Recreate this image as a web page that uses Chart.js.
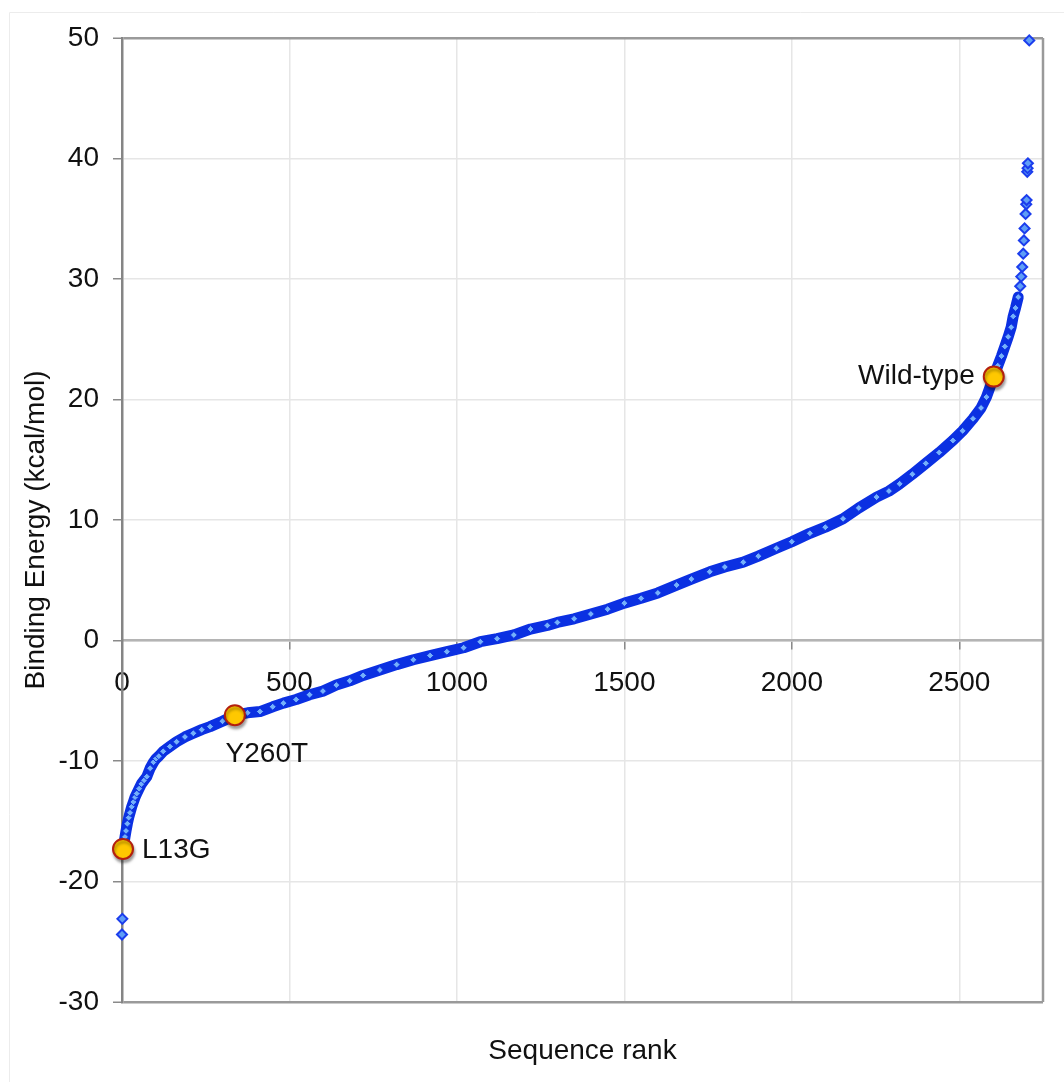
<!DOCTYPE html>
<html>
<head>
<meta charset="utf-8">
<title>Binding energy by sequence rank</title>
<script src="https://cdn.jsdelivr.net/npm/chart.js@4.4.1/dist/chart.umd.min.js"></script>
<style>
  html, body { margin: 0; padding: 0; background: #fff; }
  #wrap { width: 1064px; height: 1082px; }
</style>
</head>
<body>
<div id="wrap"><canvas id="rankChart" width="1064" height="1082"></canvas></div>
<script>
// main sorted curve (rank, binding energy)
const bandRanks = [3, 6, 9, 12, 16, 20, 24, 29, 34, 39, 44, 51, 58, 66, 74, 84, 94, 102, 110, 123,
  143, 163, 188, 213, 238, 263, 300, 337, 375, 412, 450, 482, 520, 560, 600, 640, 680, 720, 770, 820,
  870, 920, 970, 1020, 1070, 1120, 1170, 1220, 1270, 1300, 1350, 1400, 1450, 1500, 1550, 1600, 1656, 1700, 1755, 1800,
  1855, 1900, 1954, 2000, 2054, 2100, 2153, 2200, 2253, 2290, 2322, 2360, 2400, 2440, 2481, 2510, 2541, 2565, 2581, 2603,
  2615, 2626, 2636, 2646, 2655, 2661, 2668, 2676];
const bandEnergy = [-17.3, -16.8, -16.3, -15.8, -15.2, -14.7, -14.3, -13.8, -13.4, -13.0, -12.7, -12.3, -11.9, -11.6, -11.3, -10.6, -10.1, -9.8, -9.6, -9.2,
  -8.8, -8.4, -8.0, -7.7, -7.4, -7.15, -6.7, -6.2, -6.0, -5.9, -5.5, -5.2, -4.9, -4.5, -4.2, -3.7, -3.35, -2.9, -2.45, -2.0,
  -1.6, -1.25, -0.93, -0.6, -0.1, 0.15, 0.46, 0.95, 1.25, 1.5, 1.8, 2.2, 2.6, 3.1, 3.5, 3.95, 4.6, 5.1, 5.7, 6.1,
  6.5, 7.0, 7.65, 8.2, 8.9, 9.4, 10.1, 11.0, 11.9, 12.4, 13.0, 13.8, 14.7, 15.6, 16.6, 17.4, 18.4, 19.3, 20.2, 21.9,
  22.8, 23.6, 24.4, 25.2, 26.0, 26.9, 27.6, 28.5];

// isolated points at both ends
const tailRanks = [0, 1, 2682, 2685, 2688, 2691, 2693, 2695, 2698, 2700, 2701, 2703, 2704, 2705, 2709];
const tailEnergy = [-24.4, -23.1, 29.4, 30.2, 31.0, 32.1, 33.2, 34.2, 35.4, 36.2, 36.55, 38.9, 39.2, 39.6, 49.8];

// labelled sequences
const markNames = ['L13G', 'Y260T', 'Wild-type'];
const markRanks = [3, 337, 2603];
const markEnergy = [-17.3, -6.2, 21.9];

const xTickValues = [0, 500, 1000, 1500, 2000, 2500];
const xTitle = 'Sequence rank';
const yTitle = 'Binding Energy (kcal/mol)';

const toPoints = (xs, ys) => xs.map((x, i) => ({ x: x, y: ys[i] }));

Chart.defaults.font.family = '"Liberation Sans", Arial, sans-serif';
Chart.defaults.font.size = 28;
Chart.defaults.color = '#111';

// frame, titles and point labels
const decorPlugin = {
  id: 'decor',
  beforeDraw(chart) {
    const ctx = chart.ctx;
    ctx.save();
    ctx.strokeStyle = '#ececec';
    ctx.lineWidth = 1;
    ctx.beginPath();
    ctx.moveTo(9.5, 1082);
    ctx.lineTo(9.5, 12.5);
    ctx.lineTo(1064, 12.5);
    ctx.stroke();
    ctx.restore();
  },
  beforeDatasetsDraw(chart) {
    const { ctx, chartArea } = chart;
    ctx.save();
    ctx.strokeStyle = '#9a9a9a';
    ctx.lineWidth = 2.5;
    ctx.beginPath();
    ctx.moveTo(chartArea.right, chartArea.top);
    ctx.lineTo(chartArea.right, chartArea.bottom);
    ctx.stroke();
    ctx.restore();
  },
  afterDraw(chart) {
    const { ctx, chartArea, scales } = chart;
    ctx.save();
    ctx.fillStyle = '#111';
    ctx.font = '28px "Liberation Sans", Arial, sans-serif';
    ctx.textAlign = 'center';
    ctx.textBaseline = 'middle';
    ctx.fillText(xTitle, (chartArea.left + chartArea.right) / 2, 1051);

    ctx.save();
    ctx.translate(36, 530);
    ctx.rotate(-Math.PI / 2);
    ctx.fillText(yTitle, 0, 0);
    ctx.restore();

    markNames.forEach((name, i) => {
      const px = scales.x.getPixelForValue(markRanks[i]);
      const py = scales.y.getPixelForValue(markEnergy[i]);
      if (i === 0) {
        ctx.textAlign = 'left';
        ctx.fillText(name, px + 19, py + 1);
      } else if (i === 1) {
        ctx.textAlign = 'center';
        ctx.fillText(name, px + 32, py + 39);
      } else {
        ctx.textAlign = 'right';
        ctx.fillText(name, px - 19, py);
      }
    });
    ctx.restore();
  }
};

// soft drop shadow under the labelled markers (dataset 0)
const shadowPlugin = {
  id: 'markShadow',
  beforeDatasetDraw(chart, args) {
    if (args.index !== 0) return;
    const ctx = chart.ctx;
    ctx.save();
    ctx.shadowColor = 'rgba(0, 0, 0, 0.35)';
    ctx.shadowOffsetX = 1;
    ctx.shadowOffsetY = 3;
    ctx.shadowBlur = 3;
  },
  afterDatasetDraw(chart, args) {
    if (args.index !== 0) return;
    chart.ctx.restore();
  }
};

new Chart(document.getElementById('rankChart'), {
  type: 'scatter',
  data: {
    datasets: [
      {
        label: 'Labelled',
        data: toPoints(markRanks, markEnergy),
        pointStyle: 'circle',
        pointRadius: 10,
        pointBackgroundColor: '#ffc800',
        pointBorderColor: '#b3200e',
        pointBorderWidth: 2,
        clip: false
      },
      {
        label: 'Ends',
        data: toPoints(tailRanks, tailEnergy),
        pointStyle: 'rectRot',
        pointRadius: 5,
        pointBackgroundColor: '#5f9ef6',
        pointBorderColor: '#1b3ded',
        pointBorderWidth: 2,
        clip: false
      },
      {
        label: 'Sequences',
        data: toPoints(bandRanks, bandEnergy),
        showLine: true,
        borderColor: '#0b30e2',
        borderWidth: 11,
        borderJoinStyle: 'round',
        borderCapStyle: 'round',
        tension: 0,
        pointStyle: 'rectRot',
        pointRadius: 3.5,
        pointBackgroundColor: '#74b0fb',
        pointBorderColor: '#0b30e2',
        pointBorderWidth: 1,
        clip: false
      }
    ]
  },
  options: {
    responsive: false,
    animation: false,
    events: [],
    layout: { padding: { left: 0, top: 38, right: 21, bottom: 80 } },
    plugins: {
      legend: { display: false },
      tooltip: { enabled: false }
    },
    scales: {
      x: {
        type: 'linear',
        position: { y: 0 },
        min: 0,
        max: 2750,
        afterBuildTicks: s => { s.ticks = xTickValues.map(v => ({ value: v })); },
        ticks: { padding: 18, maxRotation: 0, callback: v => String(v) },
        grid: { color: '#e6e6e6', lineWidth: 1.5, tickLength: 8, tickColor: '#8a8a8a', tickWidth: 1.5 },
        border: { display: true, color: '#b4b4b4', width: 2.5 }
      },
      y: {
        type: 'linear',
        position: 'left',
        min: -30,
        max: 50,
        ticks: { stepSize: 10, padding: 14 },
        grid: {
          color: c => (c.tick && (c.tick.value === -30 || c.tick.value === 50)) ? '#9a9a9a' : '#e6e6e6',
          lineWidth: c => (c.tick && (c.tick.value === -30 || c.tick.value === 50)) ? 2.5 : 1.5,
          tickLength: 9,
          tickColor: '#8a8a8a',
          tickWidth: 1.5
        },
        border: { display: true, color: '#858585', width: 2.5 },
        afterFit: s => { s.width = 122; }
      }
    }
  },
  plugins: [decorPlugin, shadowPlugin]
});
</script>
</body>
</html>
